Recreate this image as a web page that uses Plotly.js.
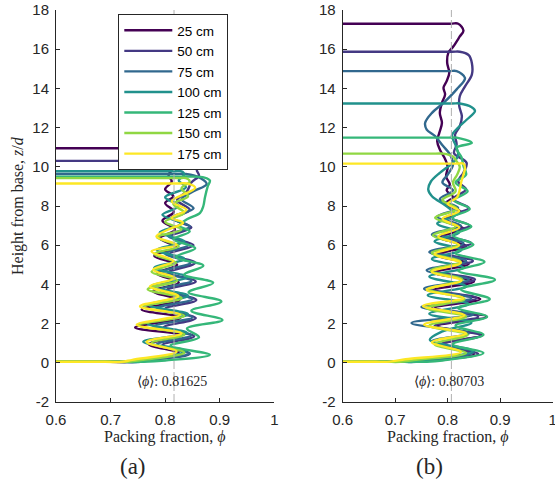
<!DOCTYPE html>
<html><head><meta charset="utf-8">
<script src="https://cdn.plot.ly/plotly-3.0.1.min.js"></script>
<style>html,body{margin:0;padding:0;background:#fff;}</style>
</head><body><div id="chart" style="width:555px;height:481px;"></div>
<script>
// ---- data: [phi, z] pairs ----
const labels = ['25 cm','50 cm','75 cm','100 cm','125 cm','150 cm','175 cm'];
const meanPhi = [0.81625, 0.80703];
const yTicks = [-2,0,2,4,6,8,10,12,14,16,18];
const xTicks = [0.6,0.7,0.8,0.9,1];

// panel (a)
const a25 = [[0.5,10.95],[0.8,10.95],[0.816,10.95],[0.82,10.75],[0.808,10.45],[0.806,10.2],[0.815,9.9],[0.806,9.6],[0.812,9.25],[0.80,8.85],[0.815,8.5],[0.80,8.15],[0.816,7.7],[0.795,7.25],[0.818,6.8],[0.79,6.35],[0.82,5.9],[0.78,5.45],[0.822,5.0],[0.785,4.55],[0.825,4.1],[0.778,3.65],[0.826,3.2],[0.757,2.72],[0.828,2.3],[0.745,1.8],[0.83,1.4],[0.77,0.95],[0.825,0.5],[0.76,0.18],[0.73,0.05],[0.7,0.05],[0.5,0.05]];
const a50 = [[0.5,10.3],[0.845,10.3],[0.862,10.3],[0.866,10.12],[0.858,9.85],[0.862,9.55],[0.848,9.2],[0.84,8.75],[0.822,8.3],[0.845,7.8],[0.815,7.35],[0.848,6.9],[0.81,6.45],[0.852,6.0],[0.808,5.55],[0.855,5.1],[0.806,4.6],[0.856,4.15],[0.803,3.7],[0.857,3.2],[0.8,2.75],[0.856,2.28],[0.797,1.8],[0.853,1.35],[0.795,0.9],[0.845,0.45],[0.77,0.15],[0.745,0.05],[0.71,0.05],[0.5,0.05]];
const a75 = [[0.5,9.63],[0.822,9.63],[0.838,9.63],[0.865,9.42],[0.876,9.12],[0.852,8.75],[0.83,8.35],[0.852,7.88],[0.812,7.4],[0.845,6.95],[0.805,6.48],[0.843,6.02],[0.8,5.56],[0.846,5.1],[0.795,4.64],[0.848,4.18],[0.79,3.72],[0.85,3.25],[0.785,2.78],[0.85,2.32],[0.78,1.86],[0.848,1.4],[0.785,0.94],[0.845,0.48],[0.77,0.15],[0.75,0.05],[0.72,0.05],[0.5,0.05]];
const a100 = [[0.5,9.77],[0.814,9.77],[0.83,9.77],[0.835,9.6],[0.825,9.3],[0.838,8.95],[0.80,8.45],[0.825,8.0],[0.795,7.55],[0.83,7.1],[0.79,6.65],[0.835,6.2],[0.785,5.75],[0.835,5.3],[0.78,4.85],[0.84,4.38],[0.775,3.9],[0.842,3.42],[0.77,2.95],[0.842,2.48],[0.768,2.0],[0.84,1.52],[0.76,1.08],[0.838,0.6],[0.78,0.2],[0.755,0.05],[0.725,0.05],[0.5,0.05]];
const a125 = [[0.5,9.5],[0.83,9.5],[0.845,9.5],[0.872,9.45],[0.882,9.3],[0.878,9.0],[0.873,8.45],[0.87,8.0],[0.864,7.65],[0.84,7.32],[0.826,7.0],[0.845,6.7],[0.815,6.3],[0.855,5.85],[0.82,5.4],[0.87,4.95],[0.835,4.5],[0.888,4.08],[0.843,3.6],[0.903,3.13],[0.848,2.65],[0.905,2.18],[0.84,1.75],[0.862,1.3],[0.81,0.88],[0.882,0.41],[0.8,0.12],[0.76,0.05],[0.73,0.05],[0.5,0.05]];
const a150 = [[0.5,9.42],[0.822,9.42],[0.838,9.42],[0.845,9.25],[0.83,8.9],[0.842,8.5],[0.815,8.1],[0.835,7.65],[0.80,7.2],[0.83,6.8],[0.785,6.4],[0.825,5.95],[0.78,5.55],[0.82,5.1],[0.775,4.65],[0.822,4.2],[0.768,3.75],[0.83,3.3],[0.76,2.85],[0.835,2.4],[0.752,1.92],[0.835,1.45],[0.775,1.0],[0.835,0.52],[0.76,0.15],[0.73,0.05],[0.7,0.05],[0.5,0.05]];
const a175 = [[0.5,9.15],[0.824,9.15],[0.84,9.15],[0.855,8.92],[0.812,8.24],[0.839,7.81],[0.812,7.39],[0.833,7.15],[0.806,6.8],[0.784,6.45],[0.821,6.02],[0.775,5.69],[0.815,5.18],[0.778,4.75],[0.818,4.33],[0.772,3.9],[0.824,3.4],[0.754,2.88],[0.827,2.45],[0.748,1.94],[0.83,1.5],[0.766,1.06],[0.821,0.57],[0.74,0.15],[0.72,0.05],[0.69,0.05],[0.5,0.05]];

// panel (b)
const b25 = [[0.5,17.3],[0.805,17.3],[0.82,17.3],[0.83,16.95],[0.823,16.65],[0.811,16.15],[0.801,15.8],[0.799,15.3],[0.803,14.8],[0.798,14.37],[0.792,14.03],[0.795,13.69],[0.789,13.26],[0.785,12.75],[0.789,12.24],[0.784,11.73],[0.78,11.3],[0.785,10.88],[0.795,10.4],[0.8,10.0],[0.797,9.5],[0.804,9.1],[0.798,8.8],[0.81,8.45],[0.795,8.1],[0.825,7.7],[0.79,7.3],[0.83,6.85],[0.785,6.4],[0.835,5.95],[0.78,5.5],[0.84,5.05],[0.775,4.6],[0.85,4.15],[0.772,3.7],[0.862,3.25],[0.776,2.8],[0.874,2.35],[0.78,1.88],[0.865,1.4],[0.79,0.95],[0.85,0.45],[0.76,0.12],[0.73,0.05],[0.7,0.05],[0.5,0.05]];
const b50 = [[0.5,15.87],[0.808,15.87],[0.823,15.87],[0.84,15.7],[0.846,15.3],[0.846,14.7],[0.833,14.1],[0.823,13.6],[0.822,13.1],[0.827,12.58],[0.823,12.07],[0.814,11.64],[0.817,11.13],[0.812,10.7],[0.836,10.2],[0.83,9.7],[0.82,9.25],[0.835,8.85],[0.81,8.35],[0.84,7.9],[0.8,7.45],[0.842,7.0],[0.79,6.55],[0.845,6.1],[0.78,5.65],[0.848,5.2],[0.77,4.72],[0.852,4.25],[0.765,3.78],[0.855,3.3],[0.77,2.82],[0.858,2.35],[0.775,1.88],[0.862,1.4],[0.785,0.92],[0.858,0.45],[0.77,0.12],[0.74,0.05],[0.71,0.05],[0.5,0.05]];
const b75 = [[0.5,14.88],[0.802,14.88],[0.817,14.88],[0.833,14.53],[0.817,13.95],[0.792,13.26],[0.77,12.75],[0.757,12.24],[0.76,11.9],[0.776,11.56],[0.79,11.1],[0.805,10.6],[0.81,10.1],[0.8,9.6],[0.79,9.2],[0.81,8.8],[0.785,8.35],[0.82,7.9],[0.78,7.45],[0.825,7.0],[0.77,6.55],[0.83,6.1],[0.765,5.65],[0.835,5.2],[0.76,4.72],[0.84,4.25],[0.755,3.78],[0.845,3.3],[0.75,2.85],[0.848,2.45],[0.731,2.03],[0.84,1.5],[0.77,1.1],[0.85,0.55],[0.77,0.15],[0.74,0.05],[0.71,0.05],[0.5,0.05]];
const b100 = [[0.5,13.23],[0.808,13.23],[0.823,13.23],[0.845,13.05],[0.852,12.85],[0.836,12.4],[0.82,12.0],[0.808,11.6],[0.815,11.1],[0.82,10.6],[0.81,10.2],[0.795,9.9],[0.785,9.69],[0.768,9.25],[0.763,8.84],[0.77,8.5],[0.798,7.98],[0.815,7.55],[0.78,7.1],[0.822,6.65],[0.775,6.2],[0.826,5.75],[0.77,5.3],[0.83,4.85],[0.765,4.4],[0.835,3.9],[0.762,3.45],[0.84,3.0],[0.765,2.5],[0.845,2.05],[0.79,1.6],[0.766,1.17],[0.848,0.6],[0.76,0.15],[0.735,0.05],[0.705,0.05],[0.5,0.05]];
const b125 = [[0.5,11.49],[0.802,11.49],[0.817,11.49],[0.846,11.22],[0.817,10.97],[0.826,10.5],[0.83,10.05],[0.835,9.6],[0.815,9.2],[0.838,8.75],[0.812,8.3],[0.842,7.85],[0.808,7.4],[0.845,6.95],[0.81,6.5],[0.849,6.03],[0.815,5.6],[0.87,5.15],[0.82,4.7],[0.89,4.24],[0.825,3.75],[0.88,3.25],[0.82,2.8],[0.875,2.35],[0.815,1.9],[0.868,1.43],[0.81,0.95],[0.868,0.5],[0.79,0.12],[0.76,0.05],[0.73,0.05],[0.5,0.05]];
const b150 = [[0.5,10.67],[0.777,10.67],[0.792,10.67],[0.81,10.52],[0.817,10.28],[0.823,10.0],[0.818,9.6],[0.81,9.2],[0.815,8.75],[0.79,8.3],[0.818,7.85],[0.776,7.4],[0.815,6.95],[0.772,6.5],[0.82,6.03],[0.77,5.6],[0.825,5.15],[0.768,4.7],[0.828,4.24],[0.765,3.75],[0.832,3.25],[0.76,2.8],[0.835,2.35],[0.765,1.9],[0.838,1.43],[0.775,0.95],[0.835,0.5],[0.74,0.15],[0.71,0.05],[0.68,0.05],[0.5,0.05]];
const b175 = [[0.5,10.16],[0.815,10.16],[0.83,10.16],[0.833,9.95],[0.831,9.69],[0.826,9.25],[0.823,8.84],[0.818,8.45],[0.8,8.1],[0.822,7.75],[0.79,7.35],[0.822,6.9],[0.782,6.45],[0.822,6.0],[0.775,5.55],[0.825,5.1],[0.77,4.65],[0.826,4.2],[0.76,3.73],[0.83,3.3],[0.753,2.9],[0.832,2.42],[0.755,1.95],[0.835,1.5],[0.77,1.05],[0.825,0.55],[0.72,0.18],[0.69,0.06],[0.66,0.05],[0.5,0.05]];

// ---- styles ----
const colors = ['#440154','#443983','#31688e','#21918c','#35b779','#90d743','#fde725'];
const panels = [
  {series:[a25,a50,a75,a100,a125,a150,a175], xa:'x', ya:'y'},
  {series:[b25,b50,b75,b100,b125,b150,b175], xa:'x2', ya:'y2'}
];
const serif = 'Liberation Serif, Times New Roman, serif';
const sans = 'Liberation Sans, Arial, sans-serif';
const axisCol = '#262626';

const traces = [];
panels.forEach((p, pi) => {
  p.series.forEach((s, i) => {
    traces.push({
      x: s.map(d => d[0]), y: s.map(d => d[1]),
      xaxis: p.xa, yaxis: p.ya, mode: 'lines', name: labels[i],
      showlegend: pi === 0, hoverinfo: 'skip',
      line: {color: colors[i], width: 2.4, shape: 'spline', smoothing: 1.0}
    });
  });
  traces.push({
    x: [meanPhi[pi], meanPhi[pi]], y: [yTicks[0], yTicks[yTicks.length-1]],
    xaxis: p.xa, yaxis: p.ya, mode: 'lines', showlegend: false, hoverinfo: 'skip',
    line: {color: '#b0b0b0', width: 1, dash: '8px,3px'}
  });
});

function xAxis(domain, anchor) {
  return {domain: domain, anchor: anchor, range: [0.6, 1], tickvals: xTicks,
    ticktext: xTicks.map(v => String(v)), ticks: 'inside', ticklen: 4, tickcolor: axisCol,
    showline: true, linecolor: axisCol, linewidth: 1, showgrid: false, zeroline: false,
    ticklabeloverflow: 'allow',
    tickfont: {family: sans, size: 15, color: axisCol}, ticklabelstandoff: 4};
}
function yAxis(anchor) {
  return {domain: [79/481, 471/481], anchor: anchor, range: [-2, 18], tickvals: yTicks,
    ticktext: yTicks.map(v => String(v)), ticks: 'inside', ticklen: 4, tickcolor: axisCol,
    showline: true, linecolor: axisCol, linewidth: 1, showgrid: false, zeroline: false,
    tickfont: {family: sans, size: 15, color: axisCol}, ticklabelstandoff: 3};
}

const ann = [];
meanPhi.forEach((m, i) => {
  ann.push({xref: i ? 'x2' : 'x', yref: i ? 'y2' : 'y', x: m - 0.004, y: -0.95,
    xanchor: 'center', yanchor: 'middle',
    text: '⟨<i>ϕ</i>⟩: ' + m.toFixed(5), showarrow: false,
    font: {family: serif, size: 14, color: axisCol}});
});
function pAnn(x, y, text, size, extra) {
  return Object.assign({xref: 'paper', yref: 'paper', x: x/555, y: 1 - y/481, text: text,
    xanchor: 'center', yanchor: 'middle', showarrow: false,
    font: {family: serif, size: size, color: axisCol}}, extra || {});
}
ann.push(pAnn(165, 437, 'Packing fraction, <i>ϕ</i>', 16));
ann.push(pAnn(448, 437, 'Packing fraction, <i>ϕ</i>', 16));
ann.push(pAnn(18, 206, 'Height from base, <i>z</i>/<i>d</i>', 16, {textangle: -90}));
ann.push(pAnn(133, 466, '(a)', 23));
ann.push(pAnn(429, 466, '(b)', 23));

const layout = {
  width: 555, height: 481, margin: {l: 0, r: 0, t: 0, b: 0},
  paper_bgcolor: '#fff', plot_bgcolor: 'rgba(0,0,0,0)',
  xaxis: xAxis([56/555, 274.3/555], 'y'),
  yaxis: yAxis('x'),
  xaxis2: xAxis([342.7/555, 552.7/555], 'y2'),
  yaxis2: yAxis('x2'),
  showlegend: true,
  legend: {x: 118.3/555, y: 1 - 14/481, xanchor: 'left', yanchor: 'top',
    bgcolor: '#fff', bordercolor: axisCol, borderwidth: 1, itemwidth: 48,
    font: {family: sans, size: 13.5, color: '#000'}, tracegroupgap: 0},
  annotations: ann
};
Plotly.newPlot('chart', traces, layout, {staticPlot: true});
</script></body></html>
